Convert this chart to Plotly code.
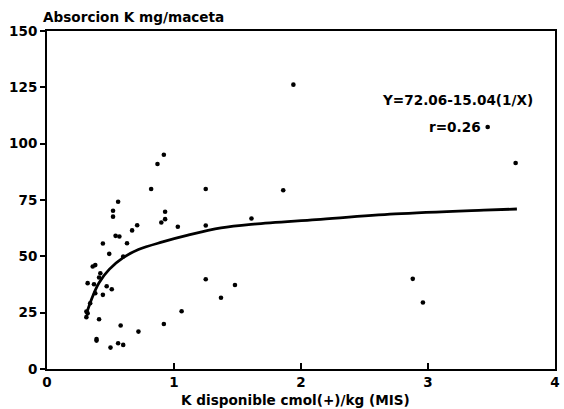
import plotly.graph_objects as go

# Observed data points (K disponible, Absorcion K)
k_disp = [0.92, 0.87, 0.82, 1.25, 0.56, 0.52, 0.52, 0.93, 0.93, 0.90,
          1.03, 1.25, 0.71, 0.67, 0.54, 0.57, 0.63, 0.44, 0.49, 0.60,
          0.36, 0.38, 0.42, 0.41, 0.32, 0.37, 0.47, 0.51, 0.38, 0.44,
          0.34, 0.31, 0.31, 0.32, 0.41, 1.25, 1.06, 0.92, 0.72, 0.58,
          0.39, 0.39, 0.50, 0.56, 0.60, 1.94, 1.86, 1.61, 1.48, 1.37,
          2.88, 3.47, 3.69, 2.96]
absorcion = [95.1, 91.0, 79.9, 79.9, 74.2, 70.2, 67.6, 69.8, 66.5, 65.0,
             63.1, 63.7, 63.8, 61.5, 59.1, 58.8, 55.8, 55.7, 51.1, 49.9,
             45.5, 46.1, 42.5, 40.6, 38.1, 37.6, 36.7, 35.4, 33.6, 32.9,
             29.2, 25.5, 23.0, 24.7, 22.1, 39.8, 25.6, 20.0, 16.6, 19.3,
             13.3, 12.6, 9.5, 11.4, 10.7, 126.2, 79.3, 66.8, 37.3, 31.6,
             40.0, 107.4, 91.4, 29.5]

# Fitted curve
fit_x = [0.31, 0.36, 0.41, 0.49, 0.60, 0.72, 0.91, 1.11, 1.37, 1.63, 2.12, 2.74, 3.44, 3.70]
fit_y = [24.5, 32.3, 38.3, 44.2, 49.4, 53.0, 56.4, 59.4, 62.6, 64.3, 66.3, 68.8, 70.5, 71.0]

x_ticks = [0, 1, 2, 3, 4]
y_ticks = [0, 25, 50, 75, 100, 125, 150]

FONT = "DejaVu Sans"

fig = go.Figure()
fig.add_trace(go.Scatter(x=fit_x, y=fit_y, mode="lines", line=dict(color="black", width=2.8, shape="spline"),
                         hoverinfo="skip", showlegend=False))
fig.add_trace(go.Scatter(x=k_disp, y=absorcion, mode="markers",
                         marker=dict(color="black", size=4.6, symbol="circle"), showlegend=False))

axis_common = dict(showline=True, linecolor="black", linewidth=2, mirror=True, showgrid=False,
                   zeroline=False, tickcolor="black", tickwidth=2,
                   tickfont=dict(family=FONT, size=13.5, color="black", weight="bold"))
fig.update_xaxes(range=[0, 4], tickvals=x_ticks, ticks="inside", ticklen=6, **axis_common)
fig.update_yaxes(range=[0, 150], tickvals=y_ticks, ticks="outside", ticklen=5, **axis_common)

ann_font = dict(family=FONT, size=13.6, color="black", weight="bold")
fig.update_layout(
    width=564, height=409,
    margin=dict(l=47, r=4, t=31, b=40),
    paper_bgcolor="white", plot_bgcolor="white",
    annotations=[
        dict(text="Absorcion K mg/maceta", xref="paper", yref="paper", x=-0.012, y=1.0, yshift=14,
             xanchor="left", yanchor="middle", showarrow=False, font=ann_font),
        dict(text="K disponible cmol(+)/kg (MIS)", xref="paper", yref="paper", x=0.49, y=0, yshift=-31,
             xanchor="center", yanchor="middle", showarrow=False, font=ann_font),
        dict(text="Y=72.06-15.04(1/X)", xref="paper", yref="paper", x=0.809, y=0.796,
             xanchor="center", yanchor="middle", showarrow=False, font=ann_font),
        dict(text="r=0.26", xref="paper", yref="paper", x=0.803, y=0.716,
             xanchor="center", yanchor="middle", showarrow=False, font=ann_font),
    ],
)

fig.write_html("out.html")
